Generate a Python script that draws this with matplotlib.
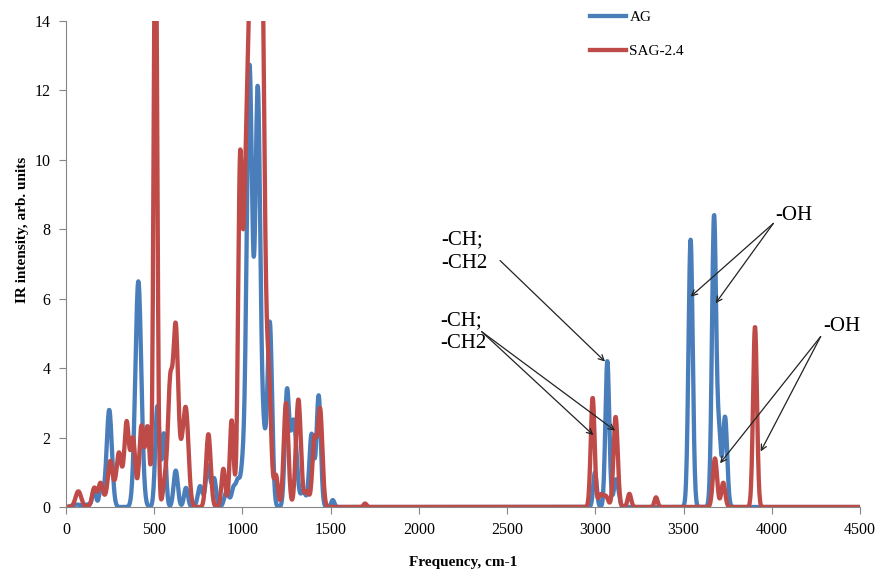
import numpy as np
import matplotlib
matplotlib.use("Agg")
import matplotlib.pyplot as plt

# peak lists: centre (cm-1), height, gaussian width
ag_centers = [60, 125, 160, 200, 245, 410, 518, 555, 622, 680, 760, 805, 840, 910, 950, 975, 1000,
              1040, 1087, 1120, 1155, 1252, 1290, 1345, 1392, 1432, 1512,
              2998, 3068, 3118, 3540, 3673, 3702, 3735]
ag_heights = [0.07, 0.07, 0.5, 0.6, 2.8, 6.5, 2.9, 2.1, 1.05, 0.55, 0.6, 1.2, 0.8, 0.45, 0.55, 0.7, 0.9,
              12.7, 11.9, 1.8, 5.3, 3.2, 2.5, 0.45, 2.1, 3.2, 0.2,
              1.0, 4.2, 0.8, 7.7, 8.4, 1.9, 2.6]
ag_widths = [25, 20, 10, 11, 15, 17, 12, 11, 12, 11, 13, 13, 11, 13, 12, 11, 11,
             16, 14, 13, 13, 12, 17, 13, 13, 12, 9,
             10, 11, 13, 12, 12, 10, 12]

sag_centers = [70, 160, 195, 250, 300, 320, 344, 380, 428, 462, 507, 560, 590, 622, 655, 680,
               807, 892, 939, 986, 1027, 1065, 1105, 1150, 1190,
               1247, 1317, 1365, 1408, 1440, 1695,
               2985, 3030, 3060, 3115, 3193, 3344, 3678, 3725, 3905]
sag_heights = [0.45, 0.5, 0.55, 0.9, 0.9, 0.7, 1.8, 1.5, 2.1, 2.2, 18, 0.7, 3.4, 5.1, 1.0, 2.7,
               2.1, 1.1, 2.5, 8.8, 11, 22, 18, 3.3, 0.9,
               3.0, 3.1, 0.45, 1.9, 2.8, 0.1,
               3.15, 0.35, 0.3, 2.6, 0.38, 0.28, 1.4, 0.7, 5.2]
sag_widths = [16, 12, 12, 12, 12, 70, 12, 12, 12, 12, 10, 11, 13, 14, 13, 15,
              13, 11, 11, 11, 20, 16, 18, 13, 11,
              13, 14, 13, 12, 13, 9,
              11, 13, 13, 12, 10, 9, 12, 11, 11]

freq = np.arange(0, 4501, 2.0)

def spectrum(centers, heights, widths):
  y = np.zeros_like(freq)
  for c, h, w in zip(centers, heights, widths):
    y += h * np.exp(-(freq - c) ** 2 / (2 * w ** 2))
  return y

ag = spectrum(ag_centers, ag_heights, ag_widths)
sag = spectrum(sag_centers, sag_heights, sag_widths)

plt.rcParams['font.family'] = ['Liberation Serif', 'DejaVu Serif']

fig = plt.figure(figsize=(8.8, 5.75), dpi=100)
ax = fig.add_axes([66/880, 1 - 507/575, 794/880, 486/575])

ax.plot(freq, ag, color='#4A7EBB', lw=3.1, label='AG')
ax.plot(freq, sag, color='#BE4B48', lw=3.1, label='SAG-2.4')

ax.set_xlim(0, 4500)
ax.set_ylim(0, 14)
ax.set_xticks(np.arange(0, 4501, 500))
ax.set_yticks(np.arange(0, 15, 2))
ax.tick_params(direction='out', length=5, color='#868686', labelsize=11.5, pad=6)
for s in ['top', 'right']:
  ax.spines[s].set_visible(False)
for s in ['left', 'bottom']:
  ax.spines[s].set_color('#868686')

ax.set_xlabel('Frequency, cm-1', fontsize=11, fontweight='bold')
ax.xaxis.set_label_coords(0.5, -0.10)
ax.set_ylabel('IR intensity, arb. units', fontsize=11, fontweight='bold')
ax.yaxis.set_label_coords(-0.047, 0.57)

fig.legend(loc='upper left', bbox_to_anchor=(576/880, 1 + 3/575), frameon=False,
           fontsize=11, handlelength=2.4, labelspacing=1.3, handletextpad=0.2)

arrow = dict(arrowstyle='->', color='#222222', lw=0.9, shrinkA=0, shrinkB=0)
txt = dict(fontsize=15, ha='left', va='center', linespacing=1.3)

ax.text(2125, 7.36, '-CH;\n-CH2', **txt)
ax.annotate('', xy=(3055, 4.19), xytext=(2460, 7.1), arrowprops=arrow)

ax.text(2120, 5.04, '-CH;\n-CH2', **txt)
for tip in [(2989, 2.07), (3112, 2.2)]:
  ax.annotate('', xy=tip, xytext=(2356, 5.05), arrowprops=arrow)

ax.text(4018, 8.41, '-OH', **txt)
for tip in [(3540, 6.06), (3682, 5.87)]:
  ax.annotate('', xy=tip, xytext=(4009, 8.17), arrowprops=arrow, annotation_clip=False)

ax.text(4290, 5.19, '-OH', **txt)
for tip in [(3707, 1.26), (3937, 1.6)]:
  ax.annotate('', xy=tip, xytext=(4277, 4.91), arrowprops=arrow, annotation_clip=False)

fig.savefig('out.png', dpi=100)
